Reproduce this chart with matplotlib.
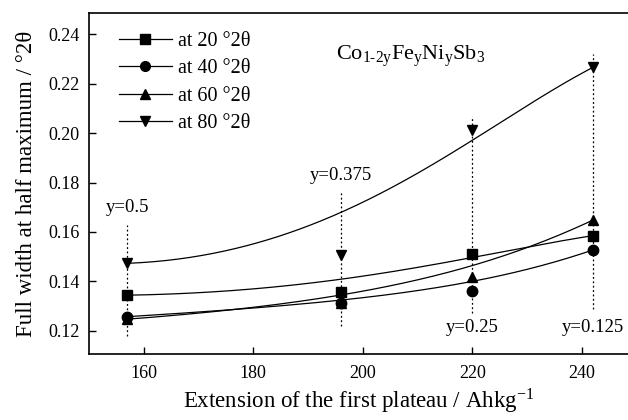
import matplotlib
matplotlib.use("Agg")
import matplotlib.pyplot as plt
import numpy as np
from math import comb

plt.rcParams['font.family'] = ['Liberation Serif', 'DejaVu Serif']
plt.rcParams['mathtext.fontset'] = 'stix'

# data
x = [157, 196, 220, 242]
fwhm_20 = [0.1344, 0.1358, 0.1509, 0.1585]
fwhm_40 = [0.1257, 0.1311, 0.1361, 0.1527]
fwhm_60 = [0.1247, 0.1312, 0.1419, 0.1648]
fwhm_80 = [0.1473, 0.1506, 0.2013, 0.2266]
labels = ['at 20 °2θ', 'at 40 °2θ', 'at 60 °2θ', 'at 80 °2θ']
markers = ['s', 'o', '^', 'v']

# composition markers (dotted drop lines)
y_comp = ['y=0.5', 'y=0.375', 'y=0.25', 'y=0.125']
drop_top = [0.163, 0.176, 0.207, 0.232]
drop_bot = [0.118, 0.122, 0.127, 0.129]


def bspline(px, py, n=200):
    # Bezier curve with the data points as control points (Origin "B-spline")
    px = np.asarray(px, float)
    py = np.asarray(py, float)
    k = len(px) - 1
    t = np.linspace(0, 1, n)
    bx = np.zeros(n)
    by = np.zeros(n)
    for i in range(k + 1):
        b = comb(k, i) * t**i * (1 - t)**(k - i)
        bx += b * px[i]
        by += b * py[i]
    return bx, by


fig = plt.figure(figsize=(6.28, 4.2), dpi=100)
ax = fig.add_axes([89 / 628, 1 - 354 / 420, 1 - 89 / 628, (354 - 13) / 420])

for ys, m, lab in zip([fwhm_20, fwhm_40, fwhm_60, fwhm_80], markers, labels):
    cx, cy = bspline(x, ys)
    ax.plot(cx, cy, color='black', lw=0.9)
    ax.plot(x, ys, ls='none', marker=m, color='black', ms=7 if m != 'o' else 7.5)
    # legend proxy
    ax.plot([], [], color='black', lw=0.9, marker=m, ms=7, label=lab)

ax.vlines(x, drop_bot, drop_top, colors='black', linestyles=(0, (1.5, 2)), lw=0.9)

ax.text(x[0], 0.1665, y_comp[0], ha='center', va='bottom', fontsize=13.5)
ax.text(x[1], 0.1795, y_comp[1], ha='center', va='bottom', fontsize=13.5)
ax.text(x[2], 0.1215, y_comp[2], ha='center', va='center', fontsize=13.5)
ax.text(x[3], 0.1215, y_comp[3], ha='center', va='center', fontsize=13.5)

fig.text(336 / 628, 1 - 56 / 420, r'$\mathregular{Co_{1\text{-}2y}Fe_yNi_ySb_3}$',
         fontsize=16, ha='left', va='center')

ax.set_xlim(150, 248.4)
ax.set_ylim(0.1106, 0.2486)
ax.set_xticks([160, 180, 200, 220, 240])
ax.set_yticks([0.12, 0.14, 0.16, 0.18, 0.20, 0.22, 0.24])
ax.yaxis.set_major_formatter(matplotlib.ticker.FormatStrFormatter('%.2f'))
ax.tick_params(direction='in', length=5, width=1, labelsize=13, top=False, right=False)
ax.tick_params(axis='x', pad=8)
ax.tick_params(axis='y', pad=7)
ax.spines['right'].set_visible(False)
for s in ['left', 'bottom', 'top']:
    ax.spines[s].set_linewidth(1.2)

ax.set_xlabel('Extension of the first plateau / Ahkg$^{\\mathregular{-1}}$', fontsize=16.5, labelpad=3)
ax.set_ylabel('Full width at half maximum / °2θ', fontsize=16.5, labelpad=8)

h, l = ax.get_legend_handles_labels()
ax.legend(h, l, loc='upper left',
          frameon=False, fontsize=14.5, handlelength=2.6, labelspacing=0.4,
          borderaxespad=0.3, handletextpad=0.3, bbox_to_anchor=(0.03, 0.985))

fig.savefig('out.png', dpi=100)
